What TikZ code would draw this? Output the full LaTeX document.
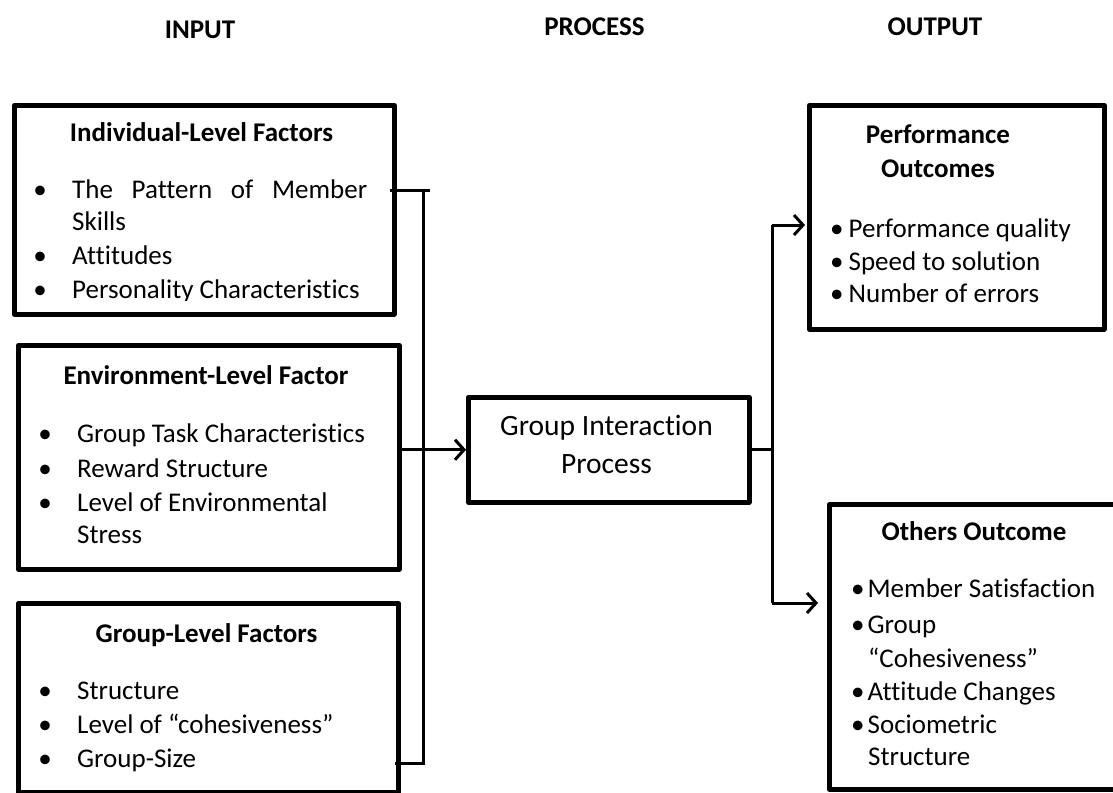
\documentclass[tikz,border=0pt]{standalone}
\usepackage{fontspec}
\setmainfont{Carlito}[Ligatures={NoCommon}]
\usetikzlibrary{arrows.meta,calc}
\begin{document}
\begin{tikzpicture}[x=1pt,y=-1pt,
  box/.style={draw, line width=4.5pt, line join=round, rectangle, inner sep=0pt, anchor=north west},
  conn/.style={draw, line width=3pt},
  arr/.style={conn, -{Straight Barb[length=9pt,width=20pt,line width=3pt]}},
  txt/.style={inner sep=0pt, anchor=base west, font=\fontsize{27}{33}\selectfont},
  ttl/.style={inner sep=0pt, anchor=base, font=\fontsize{27}{33}\selectfont\bfseries},
  bul/.style={inner sep=0pt, anchor=base, font=\fontsize{27}{33}\selectfont}]
\useasboundingbox (0,0) rectangle (1113,792);
\fill[white] (0,0) rectangle (1113,792);

% headers
\node[ttl] (hin) at (200,38) {INPUT};
\node[ttl] (hpr) at (594.5,36) {PROCESS};
\node[ttl] (hout) at (935,36) {OUTPUT};

% boxes
\node[box, minimum width=380pt, minimum height=209pt] (ind) at (12,103) {};
\node[box, minimum width=381pt, minimum height=224pt] (env) at (16,343) {};
\node[box, minimum width=380pt, minimum height=189pt] (grp) at (16,601) {};
\node[box, minimum width=281pt, minimum height=105pt] (gip) at (466,395) {};
\node[box, minimum width=295pt, minimum height=224pt] (perf) at (807,103) {};
\node[box, minimum width=340pt, minimum height=285pt] (oth) at (827,502) {};

% box 1
\node[ttl] (t1) at (201.5,141) {Individual-Level Factors};
\node[bul] (b11) at (40,198) {•};
\node[txt] (l11) at (72,198) {\makebox[295pt][s]{The Pattern of Member}};
\node[txt] (l12) at (72,230) {Skills};
\node[bul] (b12) at (40,264) {•};
\node[txt] (l13) at (72,264) {Attitudes};
\begin{scope}
\clip (20,270) rectangle (390,300);
\node[bul] (b13) at (40,298) {•};
\node[txt] (l14) at (72,298) {Personality Characteristics};
\end{scope}

% box 2
\node[ttl] (t2) at (206,384) {Environment-Level Factor};
\node[bul] (b21) at (45,442) {•};
\node[txt] (l21) at (77,442) {Group Task Characteristics};
\node[bul] (b22) at (45,477) {•};
\node[txt] (l22) at (77,477) {Reward Structure};
\node[bul] (b23) at (45,511) {•};
\node[txt] (l23) at (77,511) {Level of Environmental};
\node[txt] (l24) at (77,543) {Stress};

% box 3
\node[ttl] (t3) at (206.5,642) {Group-Level Factors};
\node[bul] (b31) at (45,699) {•};
\node[txt] (l31) at (77,699) {Structure};
\node[bul] (b32) at (45,733) {•};
\node[txt] (l32) at (77,733) {Level of “cohesiveness”};
\node[bul] (b33) at (45,767) {•};
\node[txt] (l33) at (77,767) {Group-Size};

% process box
\node[inner sep=0pt, anchor=base, font=\fontsize{29.5}{38}\selectfont] (g1) at (606.5,435) {Group Interaction};
\node[inner sep=0pt, anchor=base, font=\fontsize{29.5}{38}\selectfont] (g2) at (606.5,473) {Process};

% performance box
\node[ttl] (t4) at (938,143) {Performance};
\node[ttl] (t5) at (938,177) {Outcomes};
\node[txt] (l41) at (830,237) {•\hspace{5pt}Performance quality};
\node[txt] (l42) at (830,270) {•\hspace{5pt}Speed to solution};
\node[txt] (l43) at (830,302) {•\hspace{5pt}Number of errors};

% others box
\node[ttl] (t6) at (974,540) {Others Outcome};
\node[txt] (l51) at (851,597) {•\hspace{3pt}Member Satisfaction};
\node[txt] (l52) at (851,633) {•\hspace{3pt}Group};
\node[txt] (l53) at (868,667) {“Cohesiveness”};
\node[txt] (l54) at (851,700) {•\hspace{3pt}Attitude Changes};
\node[txt] (l55) at (851,733) {•\hspace{3pt}Sociometric};
\node[txt] (l56) at (868,765) {Structure};

% connectors
\coordinate (jt) at (423,190);
\coordinate (jb) at (423,763);
\draw[conn] ([xshift=-7pt]ind.east |- jt) -- ([xshift=7pt]jt);
\draw[conn] (jt) -- (jb) -- ([xshift=-6pt]grp.east |- jb);
\draw[arr] (env.east |- gip.west) -- (gip.west);
\coordinate (ot) at (772,225);
\coordinate (ob) at (772,603);
\draw[conn] (gip.east) -- (gip.east -| ot);
\draw[conn] (ot) -- (ob);
\draw[arr] (ot) -- ([xshift=-2pt]perf.west |- ot);
\draw[arr] (ob) -- ([xshift=-9pt]oth.west |- ob);
\end{tikzpicture}
\end{document}
